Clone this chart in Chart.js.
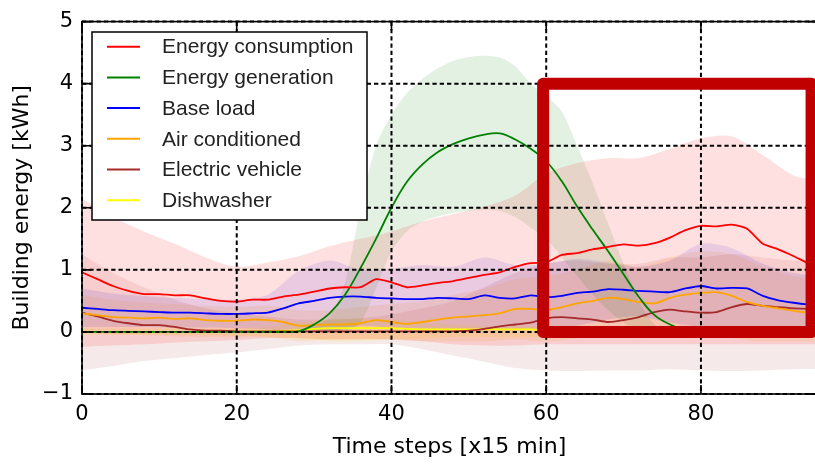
<!DOCTYPE html>
<html>
<head>
<meta charset="utf-8">
<script src="https://cdn.jsdelivr.net/npm/chart.js@4.4.1/dist/chart.umd.min.js"></script>
<style>
  html, body { margin: 0; padding: 0; background: #fff; overflow: hidden; }
  #wrap { position: relative; width: 817px; height: 466px; }
</style>
</head>
<body>
<div id="wrap"><canvas id="chart"></canvas></div>
<script>
// time steps [x15 min] for the mean curves
const steps = [0,2,4,6,8,10,12,14,16,18,20,22,24,26,28,30,32,34,36,38,40,42,44,46,48,50,52,54,56,58,60,62,64,66,68,70,72,74,76,78,80,82,84,86,88,90,92,94,95];

const consumption = [0.96,0.85,0.74,0.66,0.61,0.61,0.59,0.59,0.54,0.50,
  0.49,0.52,0.52,0.57,0.60,0.65,0.70,0.72,0.72,0.85,
  0.80,0.72,0.75,0.79,0.82,0.87,0.92,0.96,1.05,1.11,
  1.12,1.24,1.27,1.33,1.37,1.41,1.39,1.43,1.52,1.64,
  1.71,1.70,1.73,1.66,1.42,1.33,1.22,1.10,1.07];
const generation = [0,0,0,0,0,0,0,0,0,0,
  0,0,0,0,0.01,0.12,0.30,0.60,1.03,1.50,
  2.00,2.42,2.70,2.90,3.03,3.12,3.18,3.20,3.10,2.95,
  2.75,2.43,2.02,1.65,1.30,0.93,0.56,0.27,0.12,0.03,
  0,0,0,0,0,0,0,0,0];
const baseLoad = [0.39,0.37,0.35,0.34,0.33,0.32,0.31,0.31,0.30,0.29,
  0.29,0.30,0.31,0.38,0.46,0.50,0.55,0.57,0.57,0.55,
  0.54,0.53,0.53,0.55,0.54,0.53,0.59,0.55,0.54,0.59,
  0.56,0.58,0.63,0.65,0.69,0.68,0.66,0.65,0.64,0.70,
  0.74,0.70,0.71,0.70,0.58,0.51,0.47,0.44,0.43];
const airCond = [0.30,0.27,0.24,0.23,0.22,0.23,0.21,0.22,0.19,0.18,
  0.18,0.20,0.19,0.16,0.10,0.11,0.12,0.12,0.14,0.19,
  0.16,0.13,0.16,0.20,0.23,0.25,0.27,0.30,0.37,0.37,
  0.35,0.40,0.46,0.50,0.55,0.53,0.48,0.46,0.55,0.60,
  0.63,0.64,0.58,0.48,0.42,0.38,0.34,0.31,0.30];
const evehicle = [0.31,0.25,0.18,0.14,0.11,0.11,0.08,0.04,0.02,0.02,
  0.01,0.01,0.01,0.01,0.01,0.01,0.01,0.01,0.01,0.01,
  0.01,0.01,0.01,0.01,0.01,0.02,0.05,0.09,0.12,0.15,
  0.22,0.24,0.22,0.20,0.16,0.19,0.24,0.32,0.36,0.33,
  0.31,0.32,0.40,0.45,0.42,0.40,0.38,0.37,0.37];
const dishwasher = [0,0,0,0,0,0,0,0,0,0.01,
  0.01,0.01,0.01,0.02,0.03,0.05,0.06,0.06,0.06,0.06,
  0.06,0.05,0.04,0.04,0.04,0.04,0.04,0.04,0.04,0.04,
  0.03,0.03,0.03,0.03,0.03,0.03,0.03,0.03,0.03,0.03,
  0.03,0.03,0.03,0.03,0.03,0.03,0.03,0.03,0.03];

// spread bands (upper / lower bounds)
const bandSteps = [0,4,8,12,16,20,24,28,32,36,40,44,48,52,56,60,64,68,72,76,80,84,88,92,95];
const consumptionHi = [2.15,1.85,1.62,1.42,1.20,1.05,1.12,1.22,1.38,1.50,1.62,1.78,1.90,2.02,2.20,2.55,2.72,2.80,2.80,2.95,3.12,3.15,2.85,2.52,2.45];
const consumptionLo = [-0.24,-0.22,-0.20,-0.17,-0.15,-0.13,-0.10,-0.10,-0.12,-0.12,-0.12,-0.15,-0.20,-0.22,-0.22,-0.20,-0.20,-0.20,-0.20,-0.20,-0.20,-0.20,-0.20,-0.20,-0.20];
const baseHi = [0.70,0.62,0.58,0.55,0.53,0.52,0.60,0.98,1.15,1.00,1.02,1.08,1.05,1.20,1.08,1.10,1.18,1.12,1.05,1.15,1.42,1.35,1.10,0.95,0.90];
const baseLo = [0.08,0.08,0.08,0.07,0.07,0.06,0.04,0.00,0.00,0.10,0.06,0.02,0.03,0.00,0.02,0.04,0.10,0.20,0.25,0.15,0.08,0.08,0.08,0.02,0.00];
const acHi = [0.60,0.52,0.48,0.45,0.42,0.40,0.42,0.35,0.35,0.40,0.45,0.50,0.60,0.70,0.85,0.90,1.00,1.15,1.05,1.20,1.30,1.25,1.05,0.90,0.85];
const acLo = [0.00,-0.04,-0.05,-0.07,-0.08,-0.08,-0.08,-0.15,-0.12,-0.10,-0.12,-0.15,-0.15,-0.15,-0.12,-0.15,-0.10,-0.05,-0.10,-0.05,-0.05,-0.10,-0.15,-0.15,-0.15];
const evHi = [1.25,0.95,0.72,0.52,0.38,0.30,0.25,0.20,0.20,0.22,0.28,0.38,0.50,0.72,0.95,1.10,1.15,1.10,1.10,1.20,1.20,1.25,1.20,1.15,1.15];
const evLo = [-0.62,-0.55,-0.47,-0.42,-0.37,-0.33,-0.28,-0.22,-0.20,-0.20,-0.20,-0.28,-0.38,-0.48,-0.58,-0.62,-0.63,-0.62,-0.62,-0.60,-0.62,-0.63,-0.62,-0.60,-0.60];
const dishHi = [0.05,0.05,0.05,0.05,0.05,0.06,0.08,0.15,0.20,0.22,0.20,0.15,0.12,0.10,0.10,0.10,0.10,0.10,0.10,0.10,0.10,0.10,0.10,0.10,0.10];
const dishLo = [-0.05,-0.05,-0.05,-0.05,-0.05,-0.06,-0.08,-0.10,-0.15,-0.15,-0.12,-0.10,-0.08,-0.08,-0.08,-0.08,-0.08,-0.08,-0.08,-0.08,-0.08,-0.08,-0.08,-0.08,-0.08];

const genSteps = [28,30,32,34,36,38,40,42,44,46,48,50,52,54,56,58,60,62,64,66,68,70,72,74,76,78];
const generationHi = [0,0.10,0.25,0.80,2.00,3.00,3.50,3.85,4.08,4.25,4.37,4.43,4.45,4.42,4.28,4.00,3.80,3.55,3.00,2.40,1.75,1.10,0.50,0.12,0,0];
const generationLo = [0,0,0,0,0.15,0.70,1.30,1.62,1.78,1.86,1.92,1.95,1.97,1.95,1.85,1.68,1.50,1.20,0.90,0.60,0.35,0.15,0,0,0,0];

const xTicks = [0, 20, 40, 60, 80];
const yTicks = [-1, 0, 1, 2, 3, 4, 5];

// highlighted region (data coords)
const highlight = { x0: 59.6, x1: 94.3, y0: 0, y1: 4 };

const series = [
  { label: 'Energy consumption', color: '#ff0000', band: 'rgba(255,0,0,0.12)', x: steps, mean: consumption, bx: bandSteps, hi: consumptionHi, lo: consumptionLo },
  { label: 'Energy generation', color: '#008000', band: 'rgba(0,128,0,0.11)', x: steps, mean: generation, bx: genSteps, hi: generationHi, lo: generationLo },
  { label: 'Base load', color: '#0000ff', band: 'rgba(0,0,255,0.10)', x: steps, mean: baseLoad, bx: bandSteps, hi: baseHi, lo: baseLo },
  { label: 'Air conditioned', color: '#ffa500', band: 'rgba(255,165,0,0.12)', x: steps, mean: airCond, bx: bandSteps, hi: acHi, lo: acLo },
  { label: 'Electric vehicle', color: '#a52a2a', band: 'rgba(165,42,42,0.10)', x: steps, mean: evehicle, bx: bandSteps, hi: evHi, lo: evLo },
  { label: 'Dishwasher', color: '#ffff00', band: 'rgba(255,255,0,0.15)', x: steps, mean: dishwasher, bx: bandSteps, hi: dishHi, lo: dishLo }
];

const toPts = (xs, ys) => xs.map((x, i) => ({ x: x, y: ys[i] }));

const datasets = [];
series.forEach(s => {
  datasets.push({
    label: s.label, data: toPts(s.x, s.mean), borderColor: s.color,
    borderWidth: 1.8, pointRadius: 0, fill: false, tension: s.label === 'Energy generation' ? 0.4 : 0.2, order: 0
  });
});
series.forEach(s => {
  datasets.push({ data: toPts(s.bx, s.lo), borderWidth: 0, pointRadius: 0, fill: false, tension: 0.3, order: 1 });
  datasets.push({ data: toPts(s.bx, s.hi), borderWidth: 0, pointRadius: 0, fill: '-1', backgroundColor: s.band, tension: 0.3, order: 1 });
});

const axisFont = "'DejaVu Sans', sans-serif";

// grid on top of the data, frame, inward ticks, legend and the red box
const overlay = {
  id: 'overlay',
  afterDatasetsDraw(chart) {
    const { ctx, chartArea: a, scales: { x, y } } = chart;
    ctx.save();
    ctx.strokeStyle = '#000';
    ctx.lineWidth = 2;
    ctx.setLineDash([4.3, 3]);
    xTicks.forEach(t => {
      const px = x.getPixelForValue(t);
      ctx.beginPath(); ctx.moveTo(px, a.top); ctx.lineTo(px, a.bottom); ctx.stroke();
    });
    yTicks.forEach(t => {
      const py = y.getPixelForValue(t);
      ctx.beginPath(); ctx.moveTo(a.left, py); ctx.lineTo(a.right, py); ctx.stroke();
    });
    ctx.setLineDash([]);
    ctx.lineWidth = 1.6;
    ctx.strokeRect(a.left, a.top, a.right - a.left, a.bottom - a.top);
    const tl = 9;
    ctx.beginPath();
    xTicks.forEach(t => {
      const px = x.getPixelForValue(t);
      ctx.moveTo(px, a.bottom); ctx.lineTo(px, a.bottom - tl);
      ctx.moveTo(px, a.top); ctx.lineTo(px, a.top + tl);
    });
    yTicks.forEach(t => {
      const py = y.getPixelForValue(t);
      ctx.moveTo(a.left, py); ctx.lineTo(a.left + tl, py);
      ctx.moveTo(a.right, py); ctx.lineTo(a.right - tl, py);
    });
    ctx.stroke();

    // legend
    const lx = 92, ly = 32, lw = 275, lh = 188;
    ctx.fillStyle = '#fff';
    ctx.fillRect(lx, ly, lw, lh);
    ctx.lineWidth = 1.5;
    ctx.strokeStyle = '#000';
    ctx.strokeRect(lx, ly, lw, lh);
    ctx.font = "21px 'Liberation Sans', Arial, sans-serif";
    ctx.textBaseline = 'middle';
    series.forEach((s, i) => {
      const ry = 46.7 + i * 30.7;
      ctx.strokeStyle = s.color;
      ctx.lineWidth = 2;
      ctx.beginPath(); ctx.moveTo(107, ry); ctx.lineTo(140, ry); ctx.stroke();
      ctx.fillStyle = '#222';
      ctx.fillText(s.label, 162, ry + 1);
    });

    // highlighted region
    ctx.strokeStyle = '#c00000';
    ctx.lineWidth = 12;
    ctx.lineJoin = 'round';
    const bx0 = x.getPixelForValue(highlight.x0), bx1 = x.getPixelForValue(highlight.x1);
    const by0 = y.getPixelForValue(highlight.y1), by1 = y.getPixelForValue(highlight.y0);
    ctx.strokeRect(bx0, by0, bx1 - bx0, by1 - by0);
    ctx.restore();
  }
};

new Chart(document.getElementById('chart'), {
  type: 'line',
  data: { datasets: datasets },
  plugins: [overlay],
  options: {
    responsive: true,
    maintainAspectRatio: false,
    animation: false,
    layout: { padding: { top: 20, right: 0, bottom: 0, left: 0 } },
    plugins: { legend: { display: false }, tooltip: { enabled: false } },
    scales: {
      x: {
        type: 'linear', min: 0, max: 95,
        afterBuildTicks: sc => { sc.ticks = xTicks.map(v => ({ value: v })); },
        afterFit: sc => { sc.height = 72; },
        grid: { display: false, drawTicks: false },
        border: { display: false },
        ticks: { color: '#000', padding: 8, maxRotation: 0, font: { family: axisFont, size: 21 } },
        title: { display: true, text: 'Time steps [x15 min]', color: '#000', padding: { top: 0, bottom: 6 }, font: { family: axisFont, size: 22 } }
      },
      y: {
        type: 'linear', min: -1, max: 5,
        afterBuildTicks: sc => { sc.ticks = yTicks.map(v => ({ value: v })); },
        afterFit: sc => { sc.width = 82; },
        grid: { display: false, drawTicks: false },
        border: { display: false },
        ticks: { color: '#000', padding: 9, font: { family: axisFont, size: 21 },
          callback: v => (v < 0 ? '\u2212' + Math.abs(v) : String(v)) },
        title: { display: true, text: 'Building energy [kWh]', color: '#000', padding: { top: 9, bottom: 0 }, font: { family: axisFont, size: 22 } }
      }
    }
  }
});
</script>
</body>
</html>
